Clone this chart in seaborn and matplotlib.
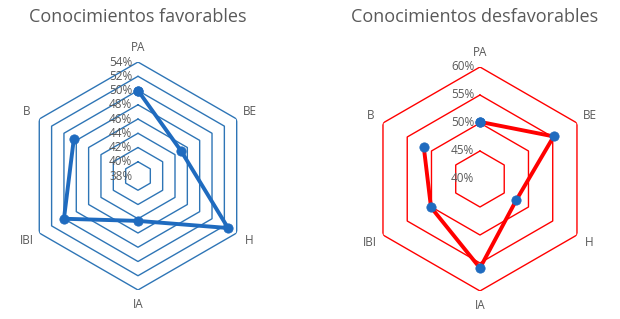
import numpy as np
import pandas as pd
import matplotlib
matplotlib.use('Agg')
import matplotlib.pyplot as plt
import seaborn as sns

# data
categories = ['PA', 'BE', 'H', 'IA', 'IBI', 'B']
favorables = [50.0, 45.0, 52.6, 44.3, 50.0, 48.4]
desfavorables = [50.2, 55.2, 47.5, 55.9, 50.1, 51.6]
fav_ticks = [38, 40, 42, 44, 46, 48, 50, 52, 54]
desf_ticks = [40, 45, 50, 55, 60]

sns.set_style('white')
plt.rcParams['font.family'] = ['Open Sans', 'DejaVu Sans']

GREY = '#595959'


def radar(ax, values, ticks, grid_color, line_color, marker_color):
    n = len(categories)
    angles = np.arange(n) * 2 * np.pi / n
    ax.set_theta_zero_location('N')
    ax.set_theta_direction(-1)
    ax.set_ylim(ticks[0], ticks[-1])
    ax.grid(False)
    ax.spines['polar'].set_visible(False)
    ax.set_xticks([])
    ax.set_yticks([])
    ax.patch.set_alpha(0)

    # hexagon grid
    closed = np.append(angles, angles[0])
    for t in ticks[1:]:
        ax.plot(closed, [t] * (n + 1), color=grid_color, lw=1.0, zorder=1)
    for t in ticks:
        ax.annotate(f'{t}%', xy=(0, t), xytext=(-4, 0), textcoords='offset points',
                    ha='right', va='center', color=GREY, fontsize=8.5, zorder=2)

    # category labels
    span = ticks[-1] - ticks[0]
    for a, c in zip(angles, categories):
        ax.text(a, ticks[0] + span * 1.13, c, ha='center', va='center',
                color=GREY, fontsize=8.5, clip_on=False)

    df = pd.DataFrame({'theta': np.append(angles, angles[0]),
                       'r': values + values[:1]})
    sns.lineplot(data=df, x='theta', y='r', sort=False, ax=ax, color=line_color,
                 lw=2.8, zorder=3)
    sns.scatterplot(data=df, x='theta', y='r', ax=ax, color=marker_color, s=45,
                    edgecolor=marker_color, zorder=4)
    ax.set_xlabel('')
    ax.set_ylabel('')


fig = plt.figure(figsize=(6.2, 3.19), dpi=100)
ax1 = fig.add_axes([0.0387, 0.0909, 0.3677, 0.7147], projection='polar')
ax2 = fig.add_axes([0.5935, 0.0878, 0.3613, 0.7022], projection='polar')

radar(ax1, favorables, fav_ticks, '#2E75B6', '#1F6BBF', '#1F6BBF')
radar(ax2, desfavorables, desf_ticks, '#FF0000', '#FF0000', '#1F6BBF')

fig.text(138 / 620, 1 - 17 / 319, 'Conocimientos favorables', ha='center',
         va='center', color=GREY, fontsize=13)
fig.text(475 / 620, 1 - 17 / 319, 'Conocimientos desfavorables', ha='center',
         va='center', color=GREY, fontsize=13)

fig.savefig('out.png', dpi=100)
